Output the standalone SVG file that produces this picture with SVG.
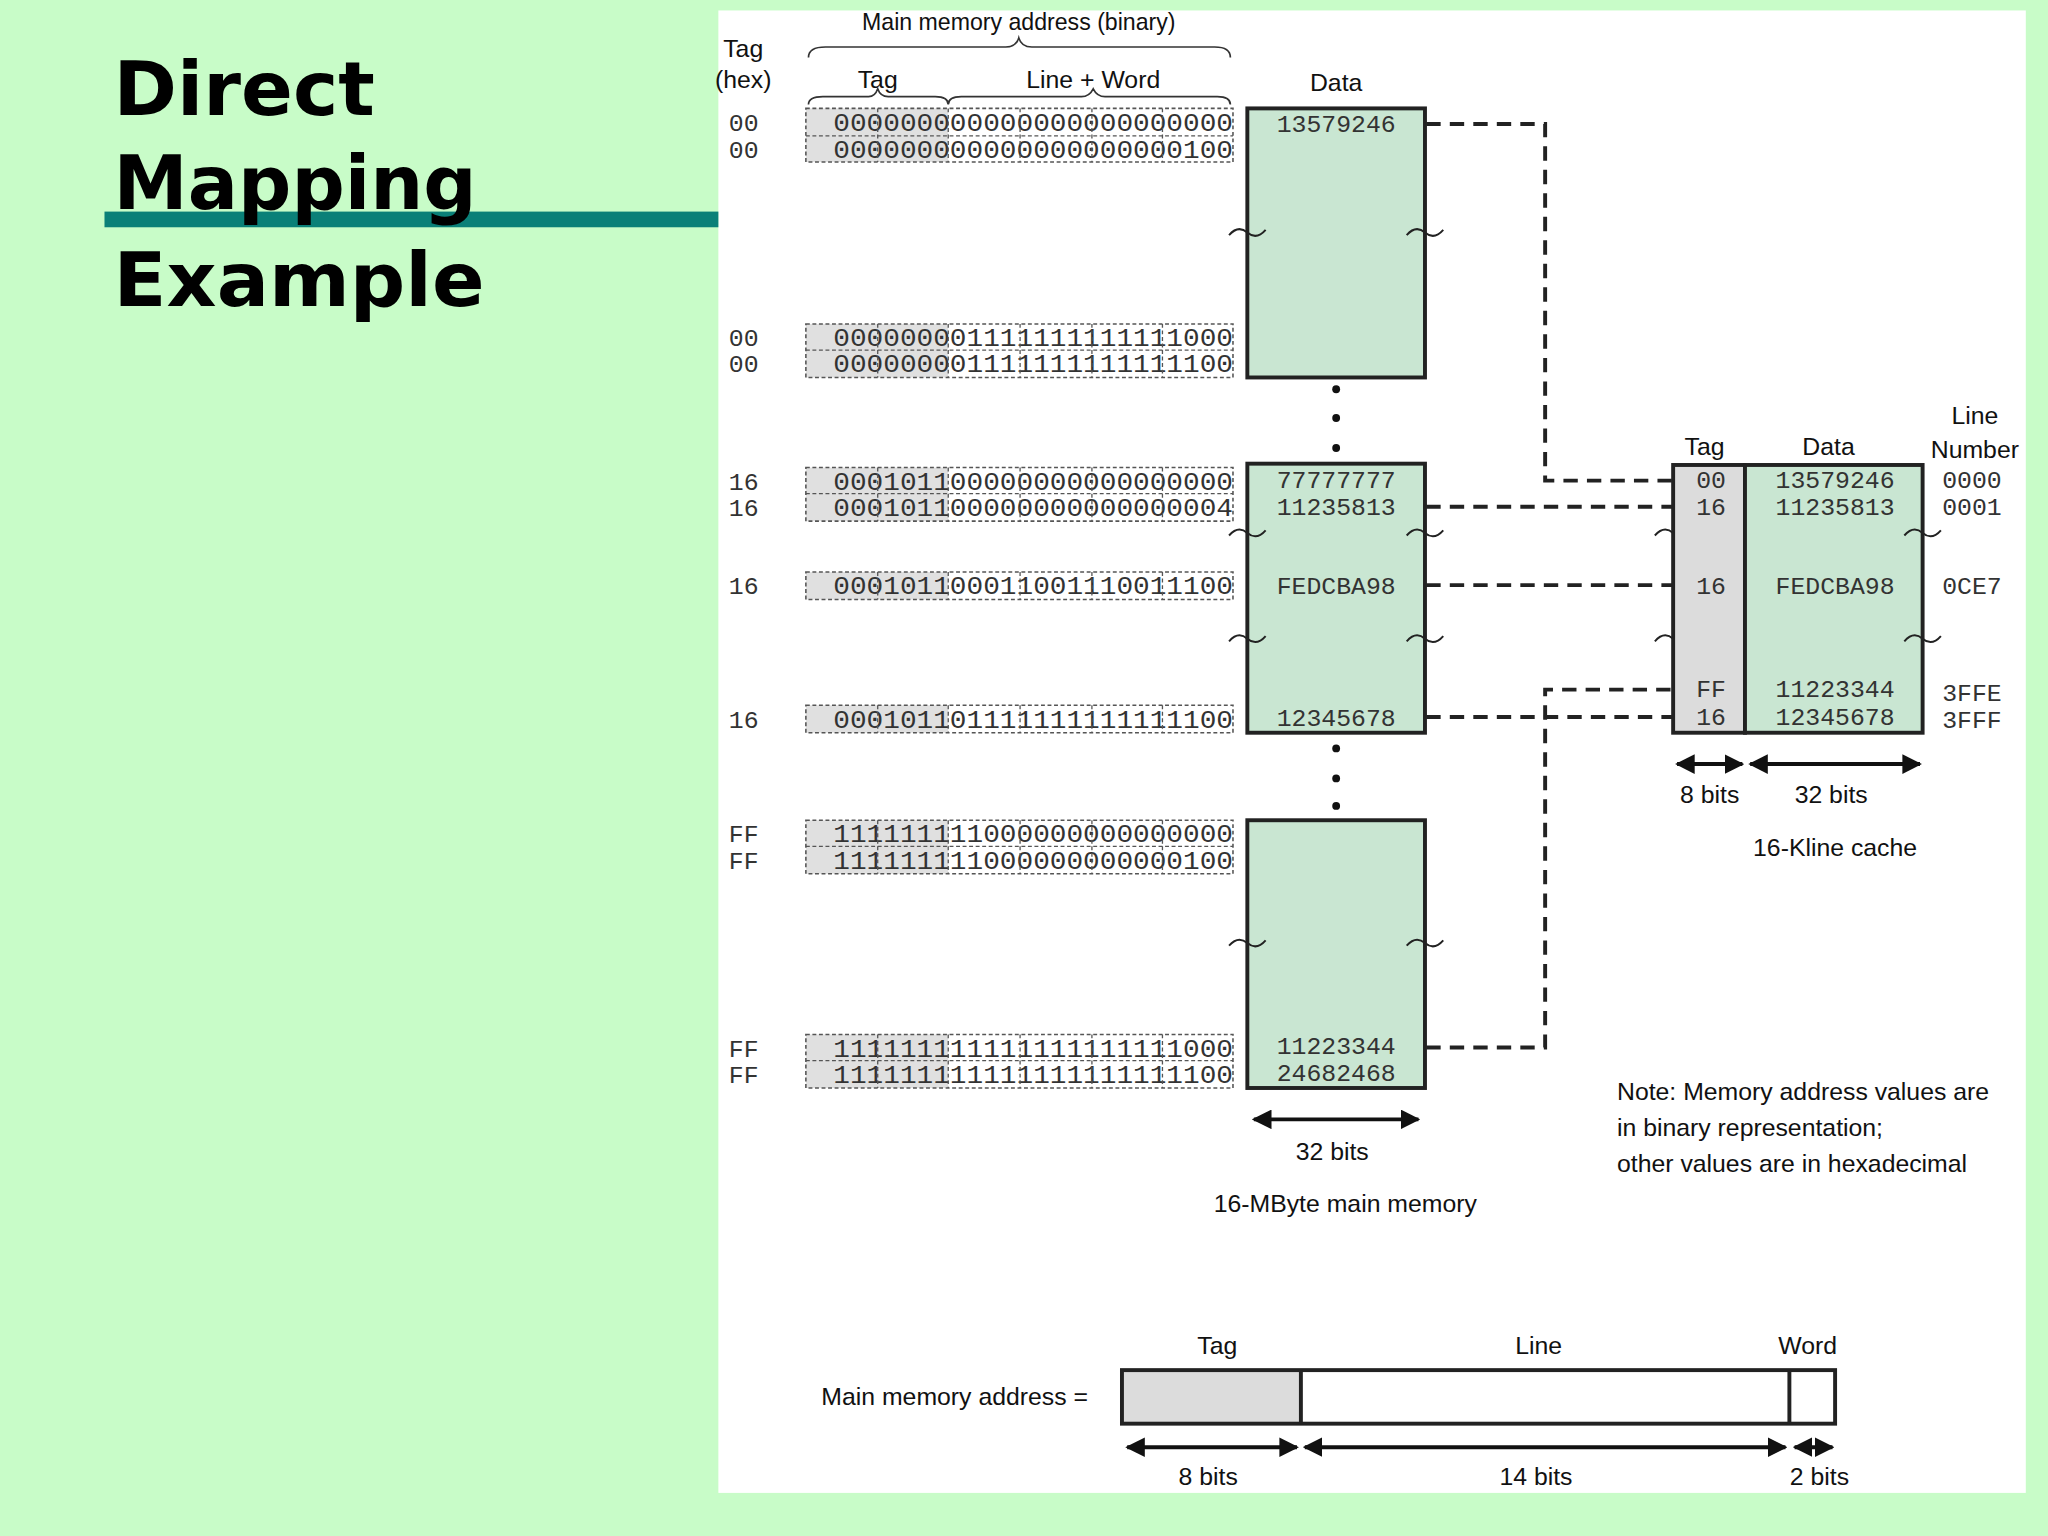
<svg xmlns="http://www.w3.org/2000/svg" width="2048" height="1536" viewBox="0 0 2048 1536">
<defs>
<style>
.s{font-family:"Liberation Sans",Arial,sans-serif;fill:#111;font-size:19px}
.m{font-family:"Liberation Mono","Courier New",monospace;fill:#333;font-size:19px}
.mb{font-family:"Liberation Mono","Courier New",monospace;fill:#333;font-size:20px}
.t{font-family:"DejaVu Sans",Verdana,sans-serif;font-weight:bold;font-size:57px;fill:#000}
.blk{fill:#c9e6d2;stroke:#222;stroke-width:3}
.tagc{fill:#dcdcdc;stroke:#222;stroke-width:3}
.row{fill:none;stroke:#555;stroke-width:1.2;stroke-dasharray:3 2}
.rowg{fill:#e0e0e0;stroke:none}
.div{stroke:#555;stroke-width:1;stroke-dasharray:3 2}
.con{fill:none;stroke:#222;stroke-width:3;stroke-dasharray:11 7}
.wave{fill:none;stroke:#222;stroke-width:1.5}
.arr{stroke:#111;stroke-width:3;marker-start:url(#ah);marker-end:url(#ah)}
.br{fill:none;stroke:#333;stroke-width:1.3}
</style>
<marker id="ah" viewBox="0 0 10 10" refX="9" refY="5" markerWidth="5" markerHeight="5" orient="auto-start-reverse" markerUnits="strokeWidth"><path d="M0,0L10,5L0,10z" fill="#111"/></marker>
</defs>
<rect width="2048" height="1536" fill="#c8fcc8"/>
<g transform="scale(1.30612)">
<rect x="550" y="8" width="1001" height="1135" fill="#fff"/>
<g id="title">
<rect x="80" y="162" width="470" height="12" fill="#0a8078"/>
<text class="t" x="87" y="88" textLength="200" lengthAdjust="spacingAndGlyphs">Direct</text>
<text class="t" x="87" y="160" textLength="278" lengthAdjust="spacingAndGlyphs">Mapping</text>
<text class="t" x="87" y="234" textLength="284" lengthAdjust="spacingAndGlyphs">Example</text>
</g>
<g id="headers">
<text class="s" x="569" y="44" text-anchor="middle" font-size="18">Tag</text>
<text class="s" x="569" y="67" text-anchor="middle" font-size="18">(hex)</text>
<text class="s" x="780" y="23" text-anchor="middle" font-size="18" textLength="240" lengthAdjust="spacingAndGlyphs">Main memory address (binary)</text>
<path class="br" d="M619,44 Q619,36 632,36 L770,36 Q778,36 780,29 Q782,36 790,36 L930,36 Q942,36 942,44"/>
<text class="s" x="672" y="67" text-anchor="middle" font-size="18">Tag</text>
<text class="s" x="837" y="67" text-anchor="middle" font-size="18">Line + Word</text>
<path class="br" d="M619,80 Q619,74 630,74 L665,74 Q670,74 672,68 Q674,74 680,74 L716,74 Q726,74 726,80 Q726,74 736,74 L828,74 Q834,74 837,68 Q840,74 846,74 L932,74 Q942,74 942,80"/>
<text class="s" x="1023" y="70" text-anchor="middle" font-size="20">Data</text>
</g>
<g id="address-rows">
<g id="r1">
<rect class="rowg" x="617" y="83" width="109" height="41"/><rect class="row" x="617" y="83" width="327" height="41"/><line class="div" x1="617" y1="104" x2="944" y2="104"/>
<text class="m" x="558" y="100">00</text><text class="m" x="558" y="121">00</text>
<text class="mb" x="638" y="100" textLength="306" lengthAdjust="spacingAndGlyphs">000000000000000000000000</text>
<text class="mb" x="638" y="121" textLength="306" lengthAdjust="spacingAndGlyphs">000000000000000000000100</text>
</g>
<g id="r2">
<rect class="rowg" x="617" y="248" width="109" height="41"/><rect class="row" x="617" y="248" width="327" height="41"/><line class="div" x1="617" y1="268" x2="944" y2="268"/>
<text class="m" x="558" y="265">00</text><text class="m" x="558" y="285">00</text>
<text class="mb" x="638" y="265" textLength="306" lengthAdjust="spacingAndGlyphs">000000001111111111111000</text>
<text class="mb" x="638" y="285" textLength="306" lengthAdjust="spacingAndGlyphs">000000001111111111111100</text>
</g>
<g id="r3">
<rect class="rowg" x="617" y="358" width="109" height="41"/><rect class="row" x="617" y="358" width="327" height="41"/><line class="div" x1="617" y1="378" x2="944" y2="378"/>
<text class="m" x="558" y="375">16</text><text class="m" x="558" y="395">16</text>
<text class="mb" x="638" y="375" textLength="306" lengthAdjust="spacingAndGlyphs">000101100000000000000000</text>
<text class="mb" x="638" y="395" textLength="306" lengthAdjust="spacingAndGlyphs">000101100000000000000004</text>
</g>
<g id="r4">
<rect class="rowg" x="617" y="438" width="109" height="21"/><rect class="row" x="617" y="438" width="327" height="21"/>
<text class="m" x="558" y="455">16</text>
<text class="mb" x="638" y="455" textLength="306" lengthAdjust="spacingAndGlyphs">000101100011001110011100</text>
</g>
<g id="r5">
<rect class="rowg" x="617" y="540" width="109" height="21"/><rect class="row" x="617" y="540" width="327" height="21"/>
<text class="m" x="558" y="557">16</text>
<text class="mb" x="638" y="557" textLength="306" lengthAdjust="spacingAndGlyphs">000101101111111111111100</text>
</g>
<g id="r6">
<rect class="rowg" x="617" y="628" width="109" height="41"/><rect class="row" x="617" y="628" width="327" height="41"/><line class="div" x1="617" y1="648" x2="944" y2="648"/>
<text class="m" x="558" y="645">FF</text><text class="m" x="558" y="665">FF</text>
<text class="mb" x="638" y="645" textLength="306" lengthAdjust="spacingAndGlyphs">111111111000000000000000</text>
<text class="mb" x="638" y="665" textLength="306" lengthAdjust="spacingAndGlyphs">111111111000000000000100</text>
</g>
<g id="r7">
<rect class="rowg" x="617" y="792" width="109" height="41"/><rect class="row" x="617" y="792" width="327" height="41"/><line class="div" x1="617" y1="812" x2="944" y2="812"/>
<text class="m" x="558" y="809">FF</text><text class="m" x="558" y="829">FF</text>
<text class="mb" x="638" y="809" textLength="306" lengthAdjust="spacingAndGlyphs">111111111111111111111000</text>
<text class="mb" x="638" y="829" textLength="306" lengthAdjust="spacingAndGlyphs">111111111111111111111100</text>
</g>
<path class="div" d="M672,83V124M726,83V124M781,83V124M836,83V124M890,83V124M672,248V289M726,248V289M781,248V289M836,248V289M890,248V289M672,358V399M726,358V399M781,358V399M836,358V399M890,358V399M672,438V459M726,438V459M781,438V459M836,438V459M890,438V459M672,540V561M726,540V561M781,540V561M836,540V561M890,540V561M672,628V669M726,628V669M781,628V669M836,628V669M890,628V669M672,792V833M726,792V833M781,792V833M836,792V833M890,792V833"/>
</g>
<g id="main-memory">
<rect class="blk" x="955" y="83" width="136" height="206"/>
<rect class="blk" x="955" y="355" width="136" height="206"/>
<rect class="blk" x="955" y="628" width="136" height="205"/>
<g class="m" text-anchor="middle">
<text x="1023" y="101">13579246</text>
<text x="1023" y="374">77777777</text>
<text x="1023" y="394">11235813</text>
<text x="1023" y="455">FEDCBA98</text>
<text x="1023" y="556">12345678</text>
<text x="1023" y="807">11223344</text>
<text x="1023" y="828">24682468</text>
</g>
<g fill="#111"><circle cx="1023" cy="298" r="3"/><circle cx="1023" cy="320" r="3"/><circle cx="1023" cy="343" r="3"/><circle cx="1023" cy="573" r="3"/><circle cx="1023" cy="596" r="3"/><circle cx="1023" cy="617" r="3"/></g>
<path class="wave" d="M941,180q7,-8 14,-2q7,6 14,-2M1077,180q7,-8 14,-2q7,6 14,-2M941,410q7,-8 14,-2q7,6 14,-2M1077,410q7,-8 14,-2q7,6 14,-2M941,491q7,-8 14,-2q7,6 14,-2M1077,491q7,-8 14,-2q7,6 14,-2M941,724q7,-8 14,-2q7,6 14,-2M1077,724q7,-8 14,-2q7,6 14,-2"/>
<line class="arr" x1="960" y1="857" x2="1086" y2="857"/>
<text class="s" x="1020" y="888" text-anchor="middle">32 bits</text>
<text class="s" x="1030" y="928" text-anchor="middle">16-MByte main memory</text>
</g>
<g id="connectors">
<path class="con" d="M1092,95H1183V368H1281"/>
<path class="con" d="M1092,388H1281"/>
<path class="con" d="M1092,448H1281"/>
<path class="con" d="M1092,549H1281"/>
<path class="con" d="M1092,802H1183V528H1281"/>
</g>
<g id="cache">
<rect class="tagc" x="1281" y="356" width="55" height="205"/>
<rect class="blk" x="1336" y="356" width="136" height="205"/>
<text class="s" x="1305" y="348" text-anchor="middle" font-size="20">Tag</text>
<text class="s" x="1400" y="348" text-anchor="middle" font-size="20">Data</text>
<text class="s" x="1512" y="325" text-anchor="middle" font-size="20">Line</text>
<text class="s" x="1512" y="351" text-anchor="middle" font-size="20">Number</text>
<g class="m" text-anchor="middle">
<text x="1310" y="374">00</text><text x="1310" y="394">16</text><text x="1310" y="455">16</text><text x="1310" y="534">FF</text><text x="1310" y="555">16</text>
<text x="1405" y="374">13579246</text><text x="1405" y="394">11235813</text><text x="1405" y="455">FEDCBA98</text><text x="1405" y="534">11223344</text><text x="1405" y="555">12345678</text>
</g>
<g class="m">
<text x="1487" y="374">0000</text><text x="1487" y="394">0001</text><text x="1487" y="455">0CE7</text><text x="1487" y="537">3FFE</text><text x="1487" y="557">3FFF</text>
</g>
<path class="wave" d="M1267,410q7,-8 14,-2M1267,491q7,-8 14,-2M1458,410q7,-8 14,-2q7,6 14,-2M1458,491q7,-8 14,-2q7,6 14,-2"/>
<line class="arr" x1="1284" y1="585" x2="1334" y2="585"/>
<line class="arr" x1="1340" y1="585" x2="1470" y2="585"/>
<text class="s" x="1309" y="615" text-anchor="middle">8 bits</text>
<text class="s" x="1402" y="615" text-anchor="middle">32 bits</text>
<text class="s" x="1405" y="655" text-anchor="middle">16-Kline cache</text>
</g>
<g id="note" class="s" font-size="20">
<text x="1238" y="842">Note: Memory address values are</text>
<text x="1238" y="870">in binary representation;</text>
<text x="1238" y="897">other values are in hexadecimal</text>
</g>
<g id="address-format">
<text class="s" x="833" y="1076" text-anchor="end">Main memory address =</text>
<rect x="859" y="1049" width="137" height="41" fill="#dcdcdc"/>
<rect x="859" y="1049" width="546" height="41" fill="none" stroke="#222" stroke-width="3"/>
<line x1="996" y1="1049" x2="996" y2="1090" stroke="#222" stroke-width="3"/>
<line x1="1370" y1="1049" x2="1370" y2="1090" stroke="#222" stroke-width="3"/>
<text class="s" x="932" y="1037" text-anchor="middle">Tag</text>
<text class="s" x="1178" y="1037" text-anchor="middle">Line</text>
<text class="s" x="1384" y="1037" text-anchor="middle">Word</text>
<line class="arr" x1="863" y1="1108" x2="993" y2="1108"/>
<line class="arr" x1="999" y1="1108" x2="1367" y2="1108"/>
<line class="arr" x1="1374" y1="1108" x2="1403" y2="1108" stroke-width="2"/>
<text class="s" x="925" y="1137" text-anchor="middle">8 bits</text>
<text class="s" x="1176" y="1137" text-anchor="middle">14 bits</text>
<text class="s" x="1393" y="1137" text-anchor="middle">2 bits</text>
</g>
</g>
</svg>
